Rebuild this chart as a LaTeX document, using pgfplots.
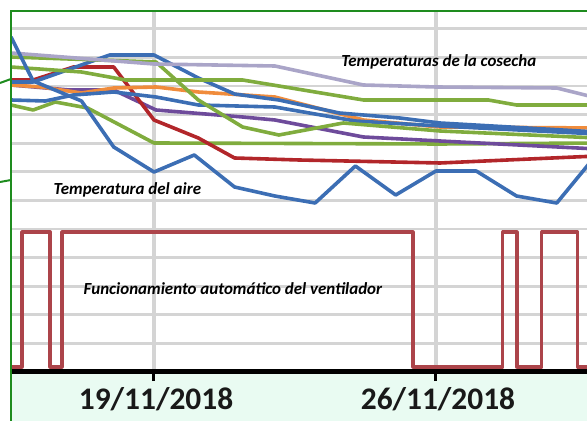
\documentclass[border=0pt]{standalone}
\usepackage{fontspec}
\setmainfont{Carlito}
\usepackage{pgfplots}
\pgfplotsset{compat=1.18}
\definecolor{cblue}{RGB}{60,110,180}
\definecolor{cred}{RGB}{178,38,42}
\definecolor{cfan}{RGB}{172,68,74}
\definecolor{cgreen}{RGB}{128,172,62}
\definecolor{corange}{RGB}{240,140,60}
\definecolor{cpurple}{RGB}{110,75,155}
\definecolor{clav}{RGB}{170,165,200}
\definecolor{gridgray}{RGB}{212,212,212}
\definecolor{mint}{RGB}{233,251,242}
\definecolor{frame}{RGB}{30,140,30}
\begin{document}
\begin{tikzpicture}
\useasboundingbox (0bp,0bp) rectangle (587bp,421bp);
\fill[mint] (11bp,0bp) rectangle (600bp,49bp);
\begin{axis}[
  at={(11bp,49bp)}, anchor=south west, scale only axis,
  width=576bp, height=361bp,
  xmin=15.45, xmax=29.75, ymin=0, ymax=361,
  axis x line*=bottom, axis y line*=left,
  y axis line style={draw=none},
  x axis line style={line width=5bp, black},
  xtick={19,26},
  xticklabels={\textbf{19/11/2018},\textbf{26/11/2018}},
  xtick style={line width=3bp, black},
  tick align=outside, major tick length=9bp,
  xticklabel style={font=\fontsize{31.5}{31.5}\selectfont, text=black!90, inner sep=0pt, yshift=-6bp, xshift=2bp},
  ytick={28.6,57.2,85.8,114.4,143,171.6,200.2,228.8,257.4,286,314.6,343.2},
  yticklabels={}, ytick style={draw=none},
  xmajorgrids, ymajorgrids,
  x grid style={line width=3.5bp, color=gridgray},
  y grid style={line width=2.8bp, color=gridgray},
  no markers,
  every axis plot/.append style={line join=round},
]
% fan
\addplot[cfan, line width=3.2bp] coordinates {(15.45,5) (15.725,5) (15.725,140) (16.42,140) (16.42,5) (16.717,5) (16.717,140) (25.43,140) (25.43,5) (27.66,5) (27.66,140) (28.01,140) (28.01,5) (28.63,5) (28.63,140) (29.52,140) (29.52,5) (30,5)};
% green C
\addplot[cgreen, line width=3.6bp] coordinates {(15.45,267) (16,262) (16.55,270) (17.35,264) (19,229) (26.1,228) (30,229)};
% purple
\addplot[cpurple, line width=3.6bp] coordinates {(15.45,287) (16.9,282) (18,282) (19.05,262) (21.2,255) (22,252) (24.2,235) (26.1,231) (30,223)};
% red
\addplot[cred, line width=3.6bp] coordinates {(15.45,292) (16,292) (17,305) (18,305) (19,252) (20.1,234) (21,214) (22.6,212) (26.1,209) (30,216)};
% orange
\addplot[corange, line width=3.6bp] coordinates {(15.45,287) (16.2,285) (17.2,279) (18,284) (19.05,285) (20.1,280) (22,275) (24.2,252) (26.1,245) (30,244)};
% blue 2
\addplot[cblue, line width=3.6bp] coordinates {(15.45,272) (16.3,271) (17,277) (18,280) (19.05,275) (20.1,267) (22,265) (24,251) (26.1,246) (30,238)};
% blue high
\addplot[cblue, line width=3.6bp] coordinates {(15.45,290) (16,290) (17.9,317) (19,317) (20.1,294) (21,278) (22.1,272) (23.6,259) (25.1,254) (26.1,249) (30,240)};
% green B
\addplot[cgreen, line width=3.6bp] coordinates {(15.45,315) (19.05,310) (20.1,272) (21.2,245) (22.1,237) (23.7,249) (26.1,241) (30,234)};
% green A
\addplot[cgreen, line width=3.6bp] coordinates {(15.45,305) (17.2,300) (18.3,292) (21.2,292) (24.2,272) (27.3,272) (28,267) (30,267)};
% lavender
\addplot[clav, line width=3.6bp] coordinates {(15.45,319) (19,308) (22,306) (24.2,287) (26,285) (29,284) (30,274)};
% air temperature
\addplot[cblue, line width=3.6bp] coordinates {(15.45,335) (16,291) (17.2,271) (18,225) (19,200) (20,217) (21,185) (22,176) (23,169) (24,206) (25,177) (26,201) (27,201) (28,176) (29,169) (30,218)};
\node[font=\bfseries\itshape\fontsize{17}{20}\selectfont, anchor=base, inner sep=0pt] at (axis cs:26.07,305) {Temperaturas de la cosecha};
\node[font=\bfseries\itshape\fontsize{17}{20}\selectfont, anchor=base, inner sep=0pt] at (axis cs:18.34,177) {Temperatura del aire};
\node[font=\bfseries\itshape\fontsize{17}{20}\selectfont, anchor=base, inner sep=0pt] at (axis cs:20.96,77) {Funcionamiento automático del ventilador};
\end{axis}
\draw[frame, line width=2.5bp] (11bp,-5bp) -- (11bp,410bp) -- (600bp,410bp);
\draw[frame, line width=2bp] (0bp,338bp) -- (11bp,342bp);
\draw[frame, line width=2bp] (0bp,239bp) -- (11bp,241bp);
\end{tikzpicture}
\end{document}
